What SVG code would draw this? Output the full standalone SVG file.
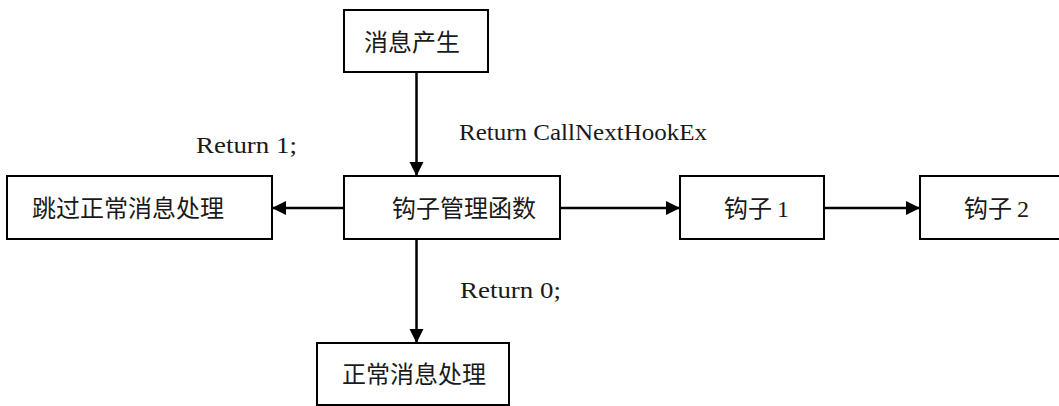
<svg xmlns="http://www.w3.org/2000/svg" width="1059" height="406" viewBox="0 0 1059 406">
  <style>
    .box { fill: #ffffff; stroke: #000000; stroke-width: 2; }
    .lbl { font-family: "Liberation Serif", "Noto Sans CJK SC", serif; font-size: 24px; fill: #1a1a1a; }
    .code { font-family: "Liberation Serif", serif; font-size: 23px; fill: #1a1a1a; }
    .conn { stroke: #000000; stroke-width: 2.5; fill: none; marker-end: url(#arrow); }
  </style>
  <defs>
    <marker id="arrow" markerUnits="userSpaceOnUse" markerWidth="15" markerHeight="15" refX="14" refY="7" orient="auto">
      <path d="M0,0 L14,7 L0,14 z" fill="#000000"/>
    </marker>
  </defs>
  <rect width="1059" height="406" fill="#ffffff"/>

  <g id="connectors">
    <line class="conn" x1="416.5" y1="72" x2="416.5" y2="176"/>
    <line class="conn" x1="344" y1="208" x2="272" y2="208"/>
    <line class="conn" x1="560" y1="208" x2="680" y2="208"/>
    <line class="conn" x1="824" y1="208" x2="920" y2="208"/>
    <line class="conn" x1="416.5" y1="239" x2="416.5" y2="343"/>
    <text class="code" x="459" y="140" textLength="248" lengthAdjust="spacingAndGlyphs">Return CallNextHookEx</text>
    <text class="code" x="196" y="153" textLength="101" lengthAdjust="spacingAndGlyphs">Return 1;</text>
    <text class="code" x="460" y="298" textLength="101" lengthAdjust="spacingAndGlyphs">Return 0;</text>
  </g>

  <g id="node-msg">
    <rect class="box" x="344" y="10" width="144" height="62"/>
    <text class="lbl" x="364" y="51">消息产生</text>
  </g>
  <g id="node-manager">
    <rect class="box" x="344" y="176" width="216" height="63"/>
    <text class="lbl" x="392" y="216.5">钩子管理函数</text>
  </g>
  <g id="node-skip">
    <rect class="box" x="7" y="176" width="265" height="63"/>
    <text class="lbl" x="32" y="216.5">跳过正常消息处理</text>
  </g>
  <g id="node-hook1">
    <rect class="box" x="680" y="176" width="144" height="63"/>
    <text class="lbl" x="724" y="216.5">钩子 <tspan x="777">1</tspan></text>
  </g>
  <g id="node-hook2">
    <rect class="box" x="920" y="176" width="145" height="63"/>
    <text class="lbl" x="964" y="216.5">钩子 <tspan x="1017">2</tspan></text>
  </g>
  <g id="node-normal">
    <rect class="box" x="317" y="343" width="192" height="62"/>
    <text class="lbl" x="342" y="383">正常消息处理</text>
  </g>
</svg>
